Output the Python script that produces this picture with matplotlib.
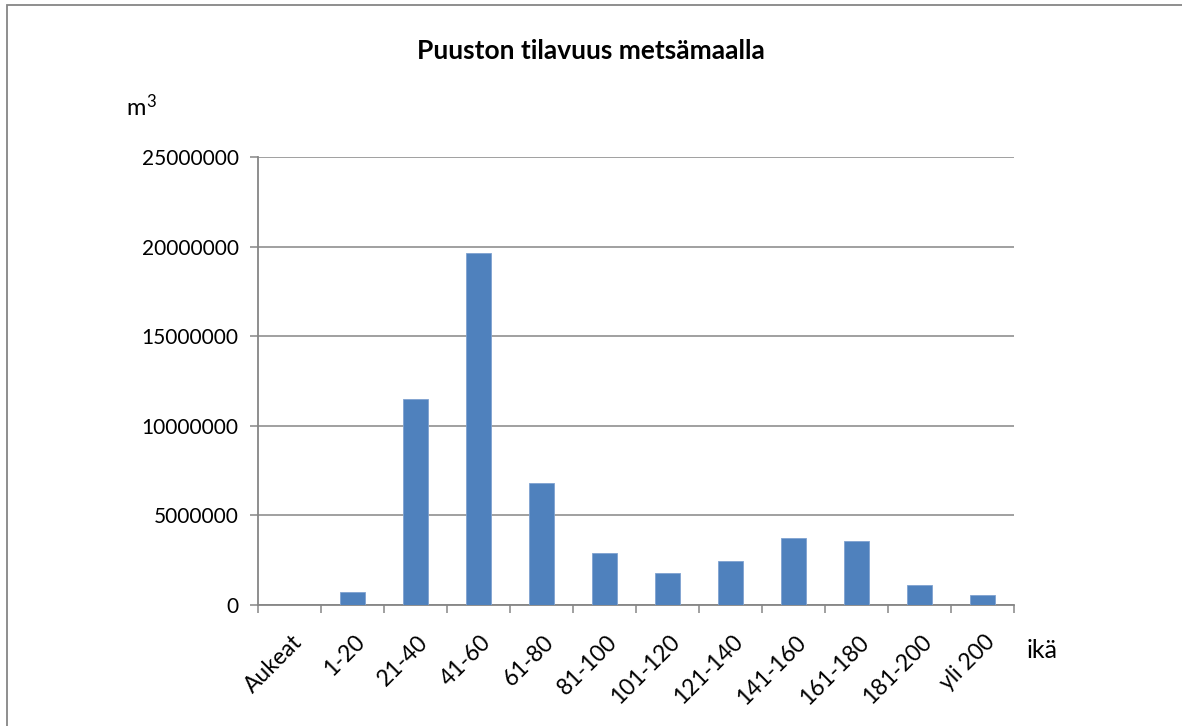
import numpy as np
import matplotlib
matplotlib.use('Agg')
import matplotlib.pyplot as plt
import matplotlib.transforms as mtransforms
from matplotlib.patches import Rectangle

# Puuston tilavuus ikäluokittain (m3)
categories = ['Aukeat', '1-20', '21-40', '41-60', '61-80', '81-100', '101-120',
              '121-140', '141-160', '161-180', '181-200', 'yli 200']
volumes = [0, 725000, 11500000, 19640000, 6820000, 2900000, 1790000,
           2470000, 3740000, 3570000, 1120000, 540000]
yticks = [0, 5000000, 10000000, 15000000, 20000000, 25000000]

plt.rcParams['font.family'] = ['Lato', 'DejaVu Sans']
grey = '#868686'

fig = plt.figure(figsize=[11.82, 7.26], dpi=100)
ax = fig.add_axes([258/1182, 1-605/726, 756/1182, 448/726])

x = np.arange(len(categories))
ax.bar(x, volumes, width=0.4, color='#4F81BD', edgecolor='#7FA2D0', linewidth=0.6, zorder=3)

ax.set_xlim(-0.5, len(categories)-0.5)
ax.set_ylim(0, 25000000)
ax.set_yticks(yticks)
ax.set_yticklabels([str(v) for v in yticks], fontsize=15)
ax.yaxis.grid(True, color=grey, linewidth=1.1, zorder=0)
ax.set_axisbelow(True)

ax.set_xticks(x)
ax.set_xticklabels(categories, fontsize=16.5, rotation=45, ha='right', rotation_mode='anchor')
ax.set_xticks(np.arange(-0.5, len(categories)), minor=True)
ax.tick_params(axis='x', which='major', length=0, pad=19)
ax.tick_params(axis='x', which='minor', length=6, color=grey, width=1.1)
ax.tick_params(axis='y', length=6, color=grey, width=1.1, pad=8)

# nudge category labels a little to the right, like the original
shift = mtransforms.ScaledTranslation(2/100, 0, fig.dpi_scale_trans)
for lbl in ax.get_xticklabels():
   lbl.set_transform(lbl.get_transform() + shift)

for s in ['top', 'right']:
   ax.spines[s].set_visible(False)
for s in ['left', 'bottom']:
   ax.spines[s].set_color(grey)
   ax.spines[s].set_linewidth(1.3)

fig.text(591/1182, 1-51/726, 'Puuston tilavuus metsämaalla', fontsize=19, fontweight='bold',
         ha='center', va='center')
fig.text(126/1182, 1-115/726, 'm', fontsize=17, ha='left', va='baseline')
fig.text(146/1182, 1-107/726, '3', fontsize=12, ha='left', va='baseline')
fig.text(1027/1182, 1-650/726, 'ikä', fontsize=18, ha='left', va='center')

# outer chart frame
fig.patches.append(Rectangle((6.5/1182, -0.1), 1.2, 1-5/726+0.1, transform=fig.transFigure,
                             fill=False, edgecolor=grey, linewidth=1.3))

plt.savefig('out.png', dpi=100)
